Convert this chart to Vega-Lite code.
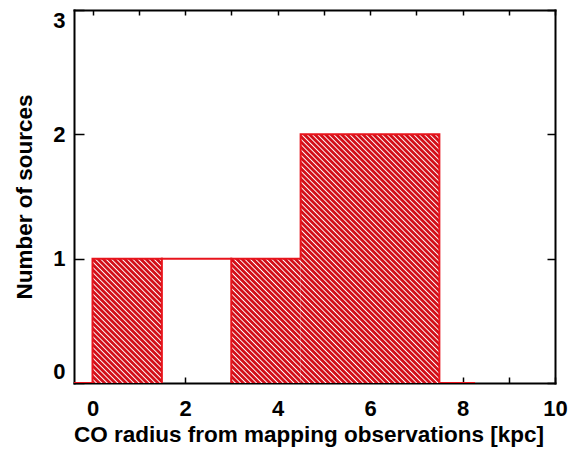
{
  "$schema": "https://vega.github.io/schema/vega-lite/v6.json",
  "width": 481,
  "height": 373,
  "autosize": "none",
  "padding": {"left": 74, "top": 10, "right": 23, "bottom": 66},
  "background": "white",
  "config": {"view": {"stroke": null}},
  "datasets": {
    "bins": [
      {"r_lo": 0, "r_hi": 1.5, "n": 1},
      {"r_lo": 1.5, "r_hi": 3, "n": 0},
      {"r_lo": 3, "r_hi": 4.5, "n": 1},
      {"r_lo": 4.5, "r_hi": 6, "n": 2},
      {"r_lo": 6, "r_hi": 7.5, "n": 2},
      {"r_lo": 7.5, "r_hi": 9, "n": 0}
    ],
    "outline": [
      {"seg": "a", "ord": 1, "r": -0.4, "n": 0},
      {"seg": "a", "ord": 2, "r": 0, "n": 0},
      {"seg": "a", "ord": 3, "r": 0, "n": 1},
      {"seg": "a", "ord": 4, "r": 4.5, "n": 1},
      {"seg": "a", "ord": 5, "r": 4.5, "n": 2},
      {"seg": "a", "ord": 6, "r": 7.5, "n": 2},
      {"seg": "a", "ord": 7, "r": 7.5, "n": 0},
      {"seg": "a", "ord": 8, "r": 8.25, "n": 0},
      {"seg": "b", "ord": 1, "r": 1.5, "n": 0},
      {"seg": "b", "ord": 2, "r": 1.5, "n": 1},
      {"seg": "c", "ord": 1, "r": 3, "n": 0},
      {"seg": "c", "ord": 2, "r": 3, "n": 1}
    ]
  },
  "layer": [
    {
      "data": {"name": "bins"},
      "transform": [{"filter": "datum.n == 1"}],
      "mark": {
        "type": "rect",
        "fill": {
          "gradient": "linear", "x1": 0, "y1": 1, "x2": 0.73051, "y2": -0.30923,
          "stops": [
            {"offset": 0, "color": "#d20f19"}, {"offset": 0.0125, "color": "#d20f19"}, {"offset": 0.01875, "color": "#ffffff"},
            {"offset": 0.025, "color": "#d20f19"}, {"offset": 0.0375, "color": "#d20f19"}, {"offset": 0.04375, "color": "#ffffff"},
            {"offset": 0.05, "color": "#d20f19"}, {"offset": 0.0625, "color": "#d20f19"}, {"offset": 0.06875, "color": "#ffffff"},
            {"offset": 0.075, "color": "#d20f19"}, {"offset": 0.0875, "color": "#d20f19"}, {"offset": 0.09375, "color": "#ffffff"},
            {"offset": 0.1, "color": "#d20f19"}, {"offset": 0.1125, "color": "#d20f19"}, {"offset": 0.11875, "color": "#ffffff"},
            {"offset": 0.125, "color": "#d20f19"}, {"offset": 0.1375, "color": "#d20f19"}, {"offset": 0.14375, "color": "#ffffff"},
            {"offset": 0.15, "color": "#d20f19"}, {"offset": 0.1625, "color": "#d20f19"}, {"offset": 0.16875, "color": "#ffffff"},
            {"offset": 0.175, "color": "#d20f19"}, {"offset": 0.1875, "color": "#d20f19"}, {"offset": 0.19375, "color": "#ffffff"},
            {"offset": 0.2, "color": "#d20f19"}, {"offset": 0.2125, "color": "#d20f19"}, {"offset": 0.21875, "color": "#ffffff"},
            {"offset": 0.225, "color": "#d20f19"}, {"offset": 0.2375, "color": "#d20f19"}, {"offset": 0.24375, "color": "#ffffff"},
            {"offset": 0.25, "color": "#d20f19"}, {"offset": 0.2625, "color": "#d20f19"}, {"offset": 0.26875, "color": "#ffffff"},
            {"offset": 0.275, "color": "#d20f19"}, {"offset": 0.2875, "color": "#d20f19"}, {"offset": 0.29375, "color": "#ffffff"},
            {"offset": 0.3, "color": "#d20f19"}, {"offset": 0.3125, "color": "#d20f19"}, {"offset": 0.31875, "color": "#ffffff"},
            {"offset": 0.325, "color": "#d20f19"}, {"offset": 0.3375, "color": "#d20f19"}, {"offset": 0.34375, "color": "#ffffff"},
            {"offset": 0.35, "color": "#d20f19"}, {"offset": 0.3625, "color": "#d20f19"}, {"offset": 0.36875, "color": "#ffffff"},
            {"offset": 0.375, "color": "#d20f19"}, {"offset": 0.3875, "color": "#d20f19"}, {"offset": 0.39375, "color": "#ffffff"},
            {"offset": 0.4, "color": "#d20f19"}, {"offset": 0.4125, "color": "#d20f19"}, {"offset": 0.41875, "color": "#ffffff"},
            {"offset": 0.425, "color": "#d20f19"}, {"offset": 0.4375, "color": "#d20f19"}, {"offset": 0.44375, "color": "#ffffff"},
            {"offset": 0.45, "color": "#d20f19"}, {"offset": 0.4625, "color": "#d20f19"}, {"offset": 0.46875, "color": "#ffffff"},
            {"offset": 0.475, "color": "#d20f19"}, {"offset": 0.4875, "color": "#d20f19"}, {"offset": 0.49375, "color": "#ffffff"},
            {"offset": 0.5, "color": "#d20f19"}, {"offset": 0.5125, "color": "#d20f19"}, {"offset": 0.51875, "color": "#ffffff"},
            {"offset": 0.525, "color": "#d20f19"}, {"offset": 0.5375, "color": "#d20f19"}, {"offset": 0.54375, "color": "#ffffff"},
            {"offset": 0.55, "color": "#d20f19"}, {"offset": 0.5625, "color": "#d20f19"}, {"offset": 0.56875, "color": "#ffffff"},
            {"offset": 0.575, "color": "#d20f19"}, {"offset": 0.5875, "color": "#d20f19"}, {"offset": 0.59375, "color": "#ffffff"},
            {"offset": 0.6, "color": "#d20f19"}, {"offset": 0.6125, "color": "#d20f19"}, {"offset": 0.61875, "color": "#ffffff"},
            {"offset": 0.625, "color": "#d20f19"}, {"offset": 0.6375, "color": "#d20f19"}, {"offset": 0.64375, "color": "#ffffff"},
            {"offset": 0.65, "color": "#d20f19"}, {"offset": 0.6625, "color": "#d20f19"}, {"offset": 0.66875, "color": "#ffffff"},
            {"offset": 0.675, "color": "#d20f19"}, {"offset": 0.6875, "color": "#d20f19"}, {"offset": 0.69375, "color": "#ffffff"},
            {"offset": 0.7, "color": "#d20f19"}, {"offset": 0.7125, "color": "#d20f19"}, {"offset": 0.71875, "color": "#ffffff"},
            {"offset": 0.725, "color": "#d20f19"}, {"offset": 0.7375, "color": "#d20f19"}, {"offset": 0.74375, "color": "#ffffff"},
            {"offset": 0.75, "color": "#d20f19"}, {"offset": 0.7625, "color": "#d20f19"}, {"offset": 0.76875, "color": "#ffffff"},
            {"offset": 0.775, "color": "#d20f19"}, {"offset": 0.7875, "color": "#d20f19"}, {"offset": 0.79375, "color": "#ffffff"},
            {"offset": 0.8, "color": "#d20f19"}, {"offset": 0.8125, "color": "#d20f19"}, {"offset": 0.81875, "color": "#ffffff"},
            {"offset": 0.825, "color": "#d20f19"}, {"offset": 0.8375, "color": "#d20f19"}, {"offset": 0.84375, "color": "#ffffff"},
            {"offset": 0.85, "color": "#d20f19"}, {"offset": 0.8625, "color": "#d20f19"}, {"offset": 0.86875, "color": "#ffffff"},
            {"offset": 0.875, "color": "#d20f19"}, {"offset": 0.8875, "color": "#d20f19"}, {"offset": 0.89375, "color": "#ffffff"},
            {"offset": 0.9, "color": "#d20f19"}, {"offset": 0.9125, "color": "#d20f19"}, {"offset": 0.91875, "color": "#ffffff"},
            {"offset": 0.925, "color": "#d20f19"}, {"offset": 0.9375, "color": "#d20f19"}, {"offset": 0.94375, "color": "#ffffff"},
            {"offset": 0.95, "color": "#d20f19"}, {"offset": 0.9625, "color": "#d20f19"}, {"offset": 0.96875, "color": "#ffffff"},
            {"offset": 0.975, "color": "#d20f19"}, {"offset": 0.9875, "color": "#d20f19"}, {"offset": 0.99375, "color": "#ffffff"},
            {"offset": 1, "color": "#d20f19"}
          ]
        }
      },
      "encoding": {
        "x": {
          "field": "r_lo", "type": "quantitative",
          "scale": {"domain": [-0.4, 10], "nice": false, "zero": false},
          "axis": {
            "orient": "bottom",
            "values": [0, 1, 2, 3, 4, 5, 6, 7, 8, 9, 10],
            "labelExpr": "datum.value % 2 === 0 ? datum.label : ''",
            "grid": false,
            "domainColor": "black", "domainWidth": 2, "domainCap": "square",
            "tickColor": "black", "tickWidth": 1.5, "tickSize": -6,
            "labelFont": "Liberation Sans", "labelFontWeight": "bold", "labelFontSize": 22,
            "labelColor": "black", "labelPadding": 21, "labelFlush": false, "labelOverlap": false, "labelBound": false,
            "title": "CO radius from mapping observations [kpc]",
            "titleFont": "Liberation Sans", "titleFontWeight": "bold", "titleFontSize": 22.5, "titleColor": "black",
            "titleX": 234.5, "titleY": 58, "titleAlign": "center", "titleBaseline": "alphabetic"
          }
        },
        "x2": {"field": "r_hi"},
        "y": {
          "field": "n", "type": "quantitative",
          "scale": {"domain": [0, 3], "nice": false},
          "axis": {
            "orient": "left",
            "values": [0, 1, 2, 3],
            "format": "d",
            "grid": false,
            "domainColor": "black", "domainWidth": 2, "domainCap": "square",
            "tickColor": "black", "tickWidth": 1.5, "tickSize": -10,
            "labelFont": "Liberation Sans", "labelFontWeight": "bold", "labelFontSize": 22,
            "labelColor": "black", "labelPadding": 19, "labelFlush": true, "labelFlushOffset": 0, "labelOverlap": false,
            "title": "Number of sources",
            "titleFont": "Liberation Sans", "titleFontWeight": "bold", "titleFontSize": 22.5, "titleColor": "black",
            "titleX": -43, "titleY": 186.5, "titleAngle": 270, "titleAlign": "center", "titleBaseline": "alphabetic"
          }
        },
        "y2": {"datum": 0}
      }
    },
    {
      "data": {"name": "bins"},
      "transform": [{"filter": "datum.n == 2"}],
      "mark": {
        "type": "rect",
        "fill": {
          "gradient": "linear", "x1": 0, "y1": 1, "x2": 0.37032, "y2": -0.3274,
          "stops": [
            {"offset": 0, "color": "#d20f19"}, {"offset": 0.0075, "color": "#d20f19"}, {"offset": 0.01125, "color": "#ffffff"},
            {"offset": 0.015, "color": "#d20f19"}, {"offset": 0.0225, "color": "#d20f19"}, {"offset": 0.02625, "color": "#ffffff"},
            {"offset": 0.03, "color": "#d20f19"}, {"offset": 0.0375, "color": "#d20f19"}, {"offset": 0.04125, "color": "#ffffff"},
            {"offset": 0.045, "color": "#d20f19"}, {"offset": 0.0525, "color": "#d20f19"}, {"offset": 0.05625, "color": "#ffffff"},
            {"offset": 0.06, "color": "#d20f19"}, {"offset": 0.0675, "color": "#d20f19"}, {"offset": 0.07125, "color": "#ffffff"},
            {"offset": 0.075, "color": "#d20f19"}, {"offset": 0.0825, "color": "#d20f19"}, {"offset": 0.08625, "color": "#ffffff"},
            {"offset": 0.09, "color": "#d20f19"}, {"offset": 0.0975, "color": "#d20f19"}, {"offset": 0.10125, "color": "#ffffff"},
            {"offset": 0.105, "color": "#d20f19"}, {"offset": 0.1125, "color": "#d20f19"}, {"offset": 0.11625, "color": "#ffffff"},
            {"offset": 0.12, "color": "#d20f19"}, {"offset": 0.1275, "color": "#d20f19"}, {"offset": 0.13125, "color": "#ffffff"},
            {"offset": 0.135, "color": "#d20f19"}, {"offset": 0.1425, "color": "#d20f19"}, {"offset": 0.14625, "color": "#ffffff"},
            {"offset": 0.15, "color": "#d20f19"}, {"offset": 0.1575, "color": "#d20f19"}, {"offset": 0.16125, "color": "#ffffff"},
            {"offset": 0.165, "color": "#d20f19"}, {"offset": 0.1725, "color": "#d20f19"}, {"offset": 0.17625, "color": "#ffffff"},
            {"offset": 0.18, "color": "#d20f19"}, {"offset": 0.1875, "color": "#d20f19"}, {"offset": 0.19125, "color": "#ffffff"},
            {"offset": 0.195, "color": "#d20f19"}, {"offset": 0.2025, "color": "#d20f19"}, {"offset": 0.20625, "color": "#ffffff"},
            {"offset": 0.21, "color": "#d20f19"}, {"offset": 0.2175, "color": "#d20f19"}, {"offset": 0.22125, "color": "#ffffff"},
            {"offset": 0.225, "color": "#d20f19"}, {"offset": 0.2325, "color": "#d20f19"}, {"offset": 0.23625, "color": "#ffffff"},
            {"offset": 0.24, "color": "#d20f19"}, {"offset": 0.2475, "color": "#d20f19"}, {"offset": 0.25125, "color": "#ffffff"},
            {"offset": 0.255, "color": "#d20f19"}, {"offset": 0.2625, "color": "#d20f19"}, {"offset": 0.26625, "color": "#ffffff"},
            {"offset": 0.27, "color": "#d20f19"}, {"offset": 0.2775, "color": "#d20f19"}, {"offset": 0.28125, "color": "#ffffff"},
            {"offset": 0.285, "color": "#d20f19"}, {"offset": 0.2925, "color": "#d20f19"}, {"offset": 0.29625, "color": "#ffffff"},
            {"offset": 0.3, "color": "#d20f19"}, {"offset": 0.3075, "color": "#d20f19"}, {"offset": 0.31125, "color": "#ffffff"},
            {"offset": 0.315, "color": "#d20f19"}, {"offset": 0.3225, "color": "#d20f19"}, {"offset": 0.32625, "color": "#ffffff"},
            {"offset": 0.33, "color": "#d20f19"}, {"offset": 0.3375, "color": "#d20f19"}, {"offset": 0.34125, "color": "#ffffff"},
            {"offset": 0.345, "color": "#d20f19"}, {"offset": 0.3525, "color": "#d20f19"}, {"offset": 0.35625, "color": "#ffffff"},
            {"offset": 0.36, "color": "#d20f19"}, {"offset": 0.3675, "color": "#d20f19"}, {"offset": 0.37125, "color": "#ffffff"},
            {"offset": 0.375, "color": "#d20f19"}, {"offset": 0.3825, "color": "#d20f19"}, {"offset": 0.38625, "color": "#ffffff"},
            {"offset": 0.39, "color": "#d20f19"}, {"offset": 0.3975, "color": "#d20f19"}, {"offset": 0.40125, "color": "#ffffff"},
            {"offset": 0.405, "color": "#d20f19"}, {"offset": 0.4125, "color": "#d20f19"}, {"offset": 0.41625, "color": "#ffffff"},
            {"offset": 0.42, "color": "#d20f19"}, {"offset": 0.4275, "color": "#d20f19"}, {"offset": 0.43125, "color": "#ffffff"},
            {"offset": 0.435, "color": "#d20f19"}, {"offset": 0.4425, "color": "#d20f19"}, {"offset": 0.44625, "color": "#ffffff"},
            {"offset": 0.45, "color": "#d20f19"}, {"offset": 0.4575, "color": "#d20f19"}, {"offset": 0.46125, "color": "#ffffff"},
            {"offset": 0.465, "color": "#d20f19"}, {"offset": 0.4725, "color": "#d20f19"}, {"offset": 0.47625, "color": "#ffffff"},
            {"offset": 0.48, "color": "#d20f19"}, {"offset": 0.4875, "color": "#d20f19"}, {"offset": 0.49125, "color": "#ffffff"},
            {"offset": 0.495, "color": "#d20f19"}, {"offset": 0.5025, "color": "#d20f19"}, {"offset": 0.50625, "color": "#ffffff"},
            {"offset": 0.51, "color": "#d20f19"}, {"offset": 0.5175, "color": "#d20f19"}, {"offset": 0.52125, "color": "#ffffff"},
            {"offset": 0.525, "color": "#d20f19"}, {"offset": 0.5325, "color": "#d20f19"}, {"offset": 0.53625, "color": "#ffffff"},
            {"offset": 0.54, "color": "#d20f19"}, {"offset": 0.5475, "color": "#d20f19"}, {"offset": 0.55125, "color": "#ffffff"},
            {"offset": 0.555, "color": "#d20f19"}, {"offset": 0.5625, "color": "#d20f19"}, {"offset": 0.56625, "color": "#ffffff"},
            {"offset": 0.57, "color": "#d20f19"}, {"offset": 0.5775, "color": "#d20f19"}, {"offset": 0.58125, "color": "#ffffff"},
            {"offset": 0.585, "color": "#d20f19"}, {"offset": 0.5925, "color": "#d20f19"}, {"offset": 0.59625, "color": "#ffffff"},
            {"offset": 0.6, "color": "#d20f19"}, {"offset": 0.6075, "color": "#d20f19"}, {"offset": 0.61125, "color": "#ffffff"},
            {"offset": 0.615, "color": "#d20f19"}, {"offset": 0.6225, "color": "#d20f19"}, {"offset": 0.62625, "color": "#ffffff"},
            {"offset": 0.63, "color": "#d20f19"}, {"offset": 0.6375, "color": "#d20f19"}, {"offset": 0.64125, "color": "#ffffff"},
            {"offset": 0.645, "color": "#d20f19"}, {"offset": 0.6525, "color": "#d20f19"}, {"offset": 0.65625, "color": "#ffffff"},
            {"offset": 0.66, "color": "#d20f19"}, {"offset": 0.6675, "color": "#d20f19"}, {"offset": 0.67125, "color": "#ffffff"},
            {"offset": 0.675, "color": "#d20f19"}, {"offset": 0.6825, "color": "#d20f19"}, {"offset": 0.68625, "color": "#ffffff"},
            {"offset": 0.69, "color": "#d20f19"}, {"offset": 0.6975, "color": "#d20f19"}, {"offset": 0.70125, "color": "#ffffff"},
            {"offset": 0.705, "color": "#d20f19"}, {"offset": 0.7125, "color": "#d20f19"}, {"offset": 0.71625, "color": "#ffffff"},
            {"offset": 0.72, "color": "#d20f19"}, {"offset": 0.7275, "color": "#d20f19"}, {"offset": 0.73125, "color": "#ffffff"},
            {"offset": 0.735, "color": "#d20f19"}, {"offset": 0.7425, "color": "#d20f19"}, {"offset": 0.74625, "color": "#ffffff"},
            {"offset": 0.75, "color": "#d20f19"}, {"offset": 0.7575, "color": "#d20f19"}, {"offset": 0.76125, "color": "#ffffff"},
            {"offset": 0.765, "color": "#d20f19"}, {"offset": 0.7725, "color": "#d20f19"}, {"offset": 0.77625, "color": "#ffffff"},
            {"offset": 0.78, "color": "#d20f19"}, {"offset": 0.7875, "color": "#d20f19"}, {"offset": 0.79125, "color": "#ffffff"},
            {"offset": 0.795, "color": "#d20f19"}, {"offset": 0.8025, "color": "#d20f19"}, {"offset": 0.80625, "color": "#ffffff"},
            {"offset": 0.81, "color": "#d20f19"}, {"offset": 0.8175, "color": "#d20f19"}, {"offset": 0.82125, "color": "#ffffff"},
            {"offset": 0.825, "color": "#d20f19"}, {"offset": 0.8325, "color": "#d20f19"}, {"offset": 0.83625, "color": "#ffffff"},
            {"offset": 0.84, "color": "#d20f19"}, {"offset": 0.8475, "color": "#d20f19"}, {"offset": 0.85125, "color": "#ffffff"},
            {"offset": 0.855, "color": "#d20f19"}, {"offset": 0.8625, "color": "#d20f19"}, {"offset": 0.86625, "color": "#ffffff"},
            {"offset": 0.87, "color": "#d20f19"}, {"offset": 0.8775, "color": "#d20f19"}, {"offset": 0.88125, "color": "#ffffff"},
            {"offset": 0.885, "color": "#d20f19"}, {"offset": 0.8925, "color": "#d20f19"}, {"offset": 0.89625, "color": "#ffffff"},
            {"offset": 0.9, "color": "#d20f19"}, {"offset": 0.9075, "color": "#d20f19"}, {"offset": 0.91125, "color": "#ffffff"},
            {"offset": 0.915, "color": "#d20f19"}, {"offset": 0.9225, "color": "#d20f19"}, {"offset": 0.92625, "color": "#ffffff"},
            {"offset": 0.93, "color": "#d20f19"}, {"offset": 0.9375, "color": "#d20f19"}, {"offset": 0.94125, "color": "#ffffff"},
            {"offset": 0.945, "color": "#d20f19"}, {"offset": 0.9525, "color": "#d20f19"}, {"offset": 0.95625, "color": "#ffffff"},
            {"offset": 0.96, "color": "#d20f19"}, {"offset": 0.9675, "color": "#d20f19"}, {"offset": 0.97125, "color": "#ffffff"},
            {"offset": 0.975, "color": "#d20f19"}, {"offset": 0.9825, "color": "#d20f19"}, {"offset": 0.98625, "color": "#ffffff"},
            {"offset": 0.99, "color": "#d20f19"}, {"offset": 1, "color": "#d20f19"}
          ]
        }
      },
      "encoding": {
        "x": {
          "field": "r_lo", "type": "quantitative",
          "scale": {"domain": [-0.4, 10], "nice": false, "zero": false},
          "axis": {
            "orient": "top",
            "values": [0, 1, 2, 3, 4, 5, 6, 7, 8, 9, 10],
            "labels": false, "title": null, "grid": false,
            "domainColor": "black", "domainWidth": 2, "domainCap": "square",
            "tickColor": "black", "tickWidth": 1.5, "tickSize": -5
          }
        },
        "x2": {"field": "r_hi"},
        "y": {
          "field": "n", "type": "quantitative",
          "scale": {"domain": [0, 3], "nice": false},
          "axis": {
            "orient": "right",
            "values": [0, 1, 2, 3],
            "labels": false, "title": null, "grid": false,
            "domainColor": "black", "domainWidth": 2, "domainCap": "square",
            "tickColor": "black", "tickWidth": 1.5, "tickSize": -8
          }
        },
        "y2": {"datum": 0}
      }
    },
    {
      "data": {"name": "outline"},
      "mark": {"type": "line", "color": "#e8141c", "strokeWidth": 2, "strokeCap": "square", "clip": true},
      "encoding": {
        "x": {"field": "r", "type": "quantitative", "scale": {"domain": [-0.4, 10], "nice": false, "zero": false}, "axis": null},
        "y": {"field": "n", "type": "quantitative", "scale": {"domain": [0, 3], "nice": false}, "axis": null},
        "detail": {"field": "seg"},
        "order": {"field": "ord"}
      }
    }
  ],
  "resolve": {"axis": {"x": "independent", "y": "independent"}}
}
